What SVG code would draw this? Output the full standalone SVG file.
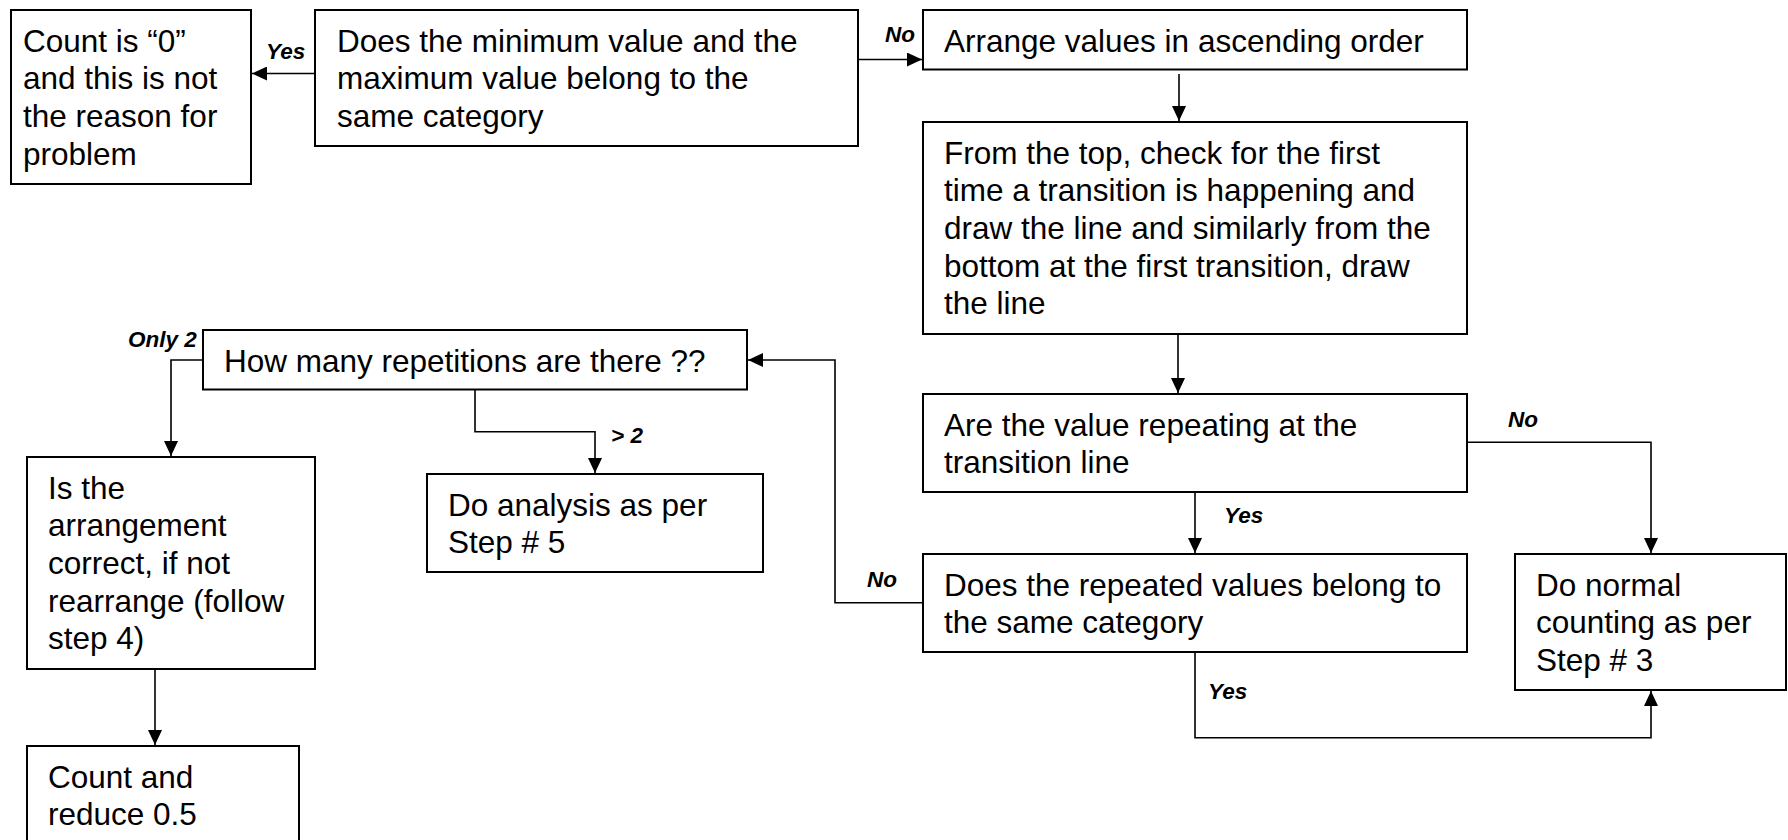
<svg xmlns="http://www.w3.org/2000/svg" width="1788" height="840" viewBox="0 0 1788 840">
<style>
.box{fill:#fff;stroke:#000;stroke-width:2}
.t{font-family:"Liberation Sans",Arial,sans-serif;font-size:31.5px;fill:#000}
.lbl{font-family:"Liberation Sans",Arial,sans-serif;font-size:22.5px;font-weight:bold;font-style:italic;fill:#000}
.c{fill:none;stroke:#000;stroke-width:1.6}
</style>
<defs>
<marker id="ah" markerUnits="userSpaceOnUse" markerWidth="15" markerHeight="14" refX="15" refY="7" orient="auto">
<path d="M0,0 L15,7 L0,14 z" fill="#000"/>
</marker>
</defs>
<rect width="1788" height="840" fill="#fff"/>
<g id="connectors">
<path class="c" d="M315,73.5 L252,73.5" marker-end="url(#ah)"/>
<path class="c" d="M858,59.5 L922,59.5" marker-end="url(#ah)"/>
<path class="c" d="M1179,74 L1179,121" marker-end="url(#ah)"/>
<path class="c" d="M1178,334 L1178,393" marker-end="url(#ah)"/>
<path class="c" d="M1195,492 L1195,553" marker-end="url(#ah)"/>
<path class="c" d="M1467,442.3 L1651,442.3 L1651,553" marker-end="url(#ah)"/>
<path class="c" d="M1195,652 L1195,737.7 L1651,737.7 L1651,691" marker-end="url(#ah)"/>
<path class="c" d="M923,602.7 L835,602.7 L835,360 L748,360" marker-end="url(#ah)"/>
<path class="c" d="M203,360 L171,360 L171,456" marker-end="url(#ah)"/>
<path class="c" d="M475,389.5 L475,431.7 L595,431.7 L595,473" marker-end="url(#ah)"/>
<path class="c" d="M155,669 L155,745" marker-end="url(#ah)"/>
<text class="lbl" x="266" y="58.5">Yes</text>
<text class="lbl" x="885" y="42">No</text>
<text class="lbl" x="128" y="347">Only 2</text>
<text class="lbl" x="611" y="443">&gt; 2</text>
<text class="lbl" x="1508" y="427">No</text>
<text class="lbl" x="1224" y="523">Yes</text>
<text class="lbl" x="867" y="587">No</text>
<text class="lbl" x="1208" y="699">Yes</text>
</g>
<g id="n1">
<rect class="box" x="11" y="10" width="240" height="174"/>
<text class="t" x="23" y="51.5">Count is “0”</text>
<text class="t" x="23" y="89.2">and this is not</text>
<text class="t" x="23" y="126.9">the reason for</text>
<text class="t" x="23" y="164.6">problem</text>
</g>
<g id="n2">
<rect class="box" x="315" y="10" width="543" height="136"/>
<text class="t" x="337" y="51.5">Does the minimum value and the</text>
<text class="t" x="337" y="89.2">maximum value belong to the</text>
<text class="t" x="337" y="126.9">same category</text>
</g>
<g id="n3">
<rect class="box" x="923" y="10" width="544" height="59.5"/>
<text class="t" x="944" y="51.5">Arrange values in ascending order</text>
</g>
<g id="n4">
<rect class="box" x="923" y="122" width="544" height="212"/>
<text class="t" x="944" y="163.5">From the top, check for the first</text>
<text class="t" x="944" y="201.2">time a transition is happening and</text>
<text class="t" x="944" y="238.9">draw the line and similarly from the</text>
<text class="t" x="944" y="276.6">bottom at the first transition, draw</text>
<text class="t" x="944" y="314.3">the line</text>
</g>
<g id="n5">
<rect class="box" x="923" y="394" width="544" height="98"/>
<text class="t" x="944" y="435.5">Are the value repeating at the</text>
<text class="t" x="944" y="473.2">transition line</text>
</g>
<g id="n6">
<rect class="box" x="923" y="554" width="544" height="98"/>
<text class="t" x="944" y="595.5">Does the repeated values belong to</text>
<text class="t" x="944" y="633.2">the same category</text>
</g>
<g id="n7">
<rect class="box" x="1515" y="554" width="271" height="136"/>
<text class="t" x="1536" y="595.5">Do normal</text>
<text class="t" x="1536" y="633.2">counting as per</text>
<text class="t" x="1536" y="670.9">Step # 3</text>
</g>
<g id="n8">
<rect class="box" x="203" y="330" width="544" height="59.5"/>
<text class="t" x="224" y="371.5">How many repetitions are there ??</text>
</g>
<g id="n9">
<rect class="box" x="427" y="474" width="336" height="98"/>
<text class="t" x="448" y="515.5">Do analysis as per</text>
<text class="t" x="448" y="553.2">Step # 5</text>
</g>
<g id="n10">
<rect class="box" x="27" y="457" width="288" height="212"/>
<text class="t" x="48" y="498.5">Is the</text>
<text class="t" x="48" y="536.2">arrangement</text>
<text class="t" x="48" y="573.9">correct, if not</text>
<text class="t" x="48" y="611.6">rearrange (follow</text>
<text class="t" x="48" y="649.3">step 4)</text>
</g>
<g id="n11">
<rect class="box" x="27" y="746" width="272" height="100"/>
<text class="t" x="48" y="787.5">Count and</text>
<text class="t" x="48" y="825.2">reduce 0.5</text>
</g>
</svg>
